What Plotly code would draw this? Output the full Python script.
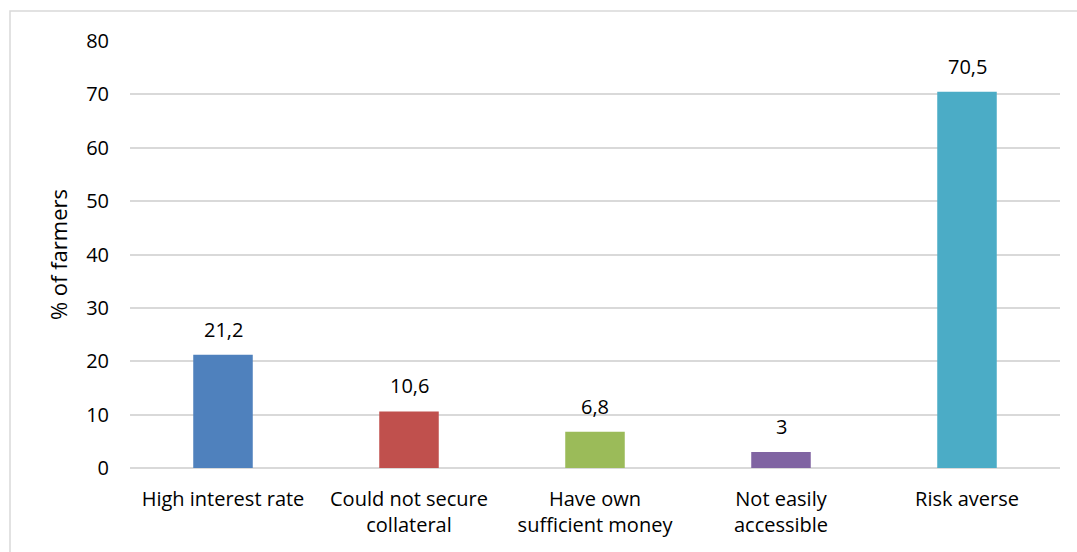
import plotly.graph_objects as go

categories = ["High interest rate", "Could not secure<br>collateral", "Have own<br>sufficient money",
              "Not easily<br>accessible", "Risk averse"]
values = [21.2, 10.6, 6.8, 3, 70.5]
colors = ["#4f81bd", "#c0504d", "#9bbb59", "#8064a2", "#4bacc6"]
y_ticks = [0, 10, 20, 30, 40, 50, 60, 70, 80]

FONT = "Open Sans"
SIZE = 20


def fmt(v):
    # decimal comma, no trailing ",0"
    return (f"{v:g}").replace(".", ",")


fig = go.Figure(
    go.Bar(
        x=categories,
        y=values,
        marker=dict(color=colors, line=dict(width=0)),
        width=0.32,
        hoverinfo="x+y",
    )
)

# value labels above each bar
for cat, val in zip(categories, values):
    fig.add_annotation(
        x=cat,
        y=val,
        text=fmt(val),
        showarrow=False,
        yanchor="bottom",
        yshift=10,
        font=dict(family=FONT, size=SIZE, color="#000000"),
    )

fig.update_layout(
    width=1077,
    height=552,
    margin=dict(l=130, r=17, t=41, b=84),
    paper_bgcolor="white",
    plot_bgcolor="white",
    separators=",.",
    showlegend=False,
    font=dict(family=FONT, size=SIZE, color="#000000"),
    xaxis=dict(
        showgrid=False,
        showline=False,
        ticks="",
        ticklabelstandoff=17,
        tickfont=dict(family=FONT, size=SIZE, color="#000000"),
    ),
    yaxis=dict(
        range=[0, 80],
        tickvals=y_ticks,
        showgrid=True,
        gridcolor="#d9d9d9",
        gridwidth=1.5,
        zeroline=True,
        zerolinecolor="#d9d9d9",
        zerolinewidth=1.5,
        showline=False,
        ticks="",
        ticklabelstandoff=20,
        tickfont=dict(family=FONT, size=SIZE, color="#000000"),
        title=dict(text="% of farmers", font=dict(family=FONT, size=22, color="#000000"), standoff=12),
    ),
    shapes=[
        dict(
            type="rect",
            xref="paper",
            yref="paper",
            x0=(10 - 130) / 930,
            x1=(1090 - 130) / 930,
            y0=(468 - 560) / 427,
            y1=(468 - 11) / 427,
            line=dict(color="#d9d9d9", width=1.5),
            fillcolor="rgba(0,0,0,0)",
            layer="below",
        )
    ],
)

fig.write_html("out.html")
